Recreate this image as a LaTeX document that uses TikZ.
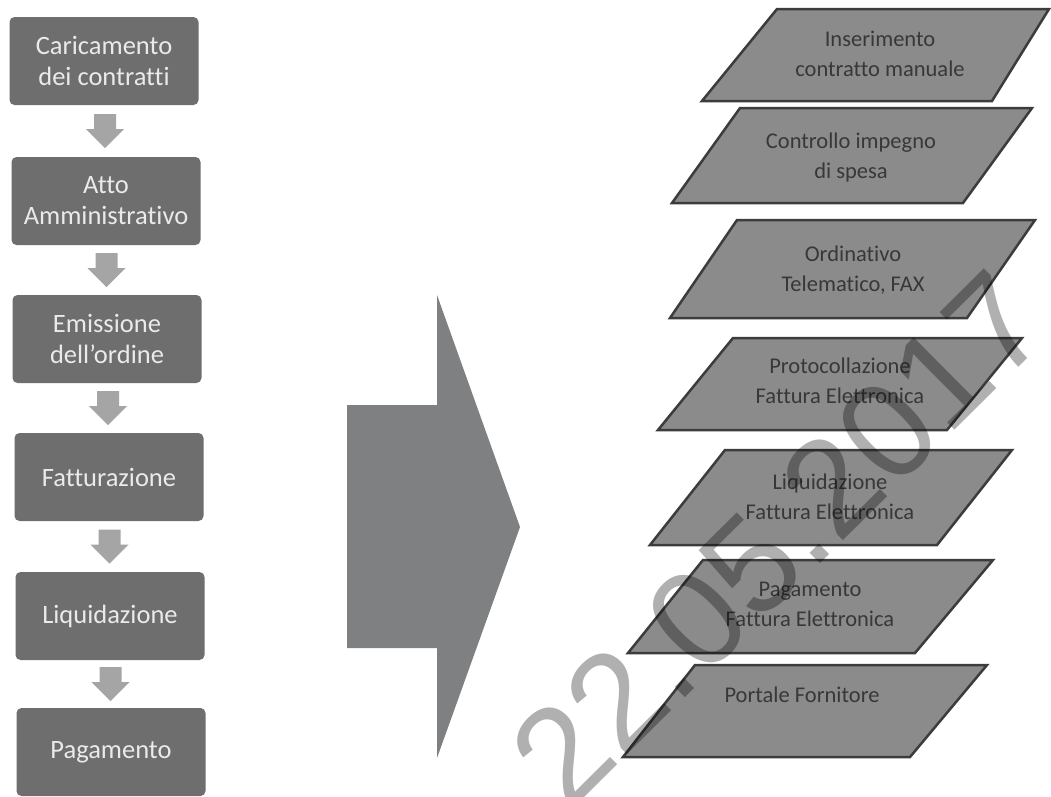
\documentclass[tikz,border=0pt]{standalone}
\usepackage{fontspec}
\setmainfont{Carlito}[Ligatures={TeX,NoCommon}]
\newfontfamily\stampfont{Liberation Sans}

\definecolor{boxgray}{HTML}{6E6E6E}
\definecolor{boxtext}{HTML}{EAEAEA}
\definecolor{stepgray}{HTML}{A5A5A5}
\definecolor{bigarrow}{HTML}{7F8081}
\definecolor{slabfill}{HTML}{8B8B8B}
\definecolor{slabline}{HTML}{3C3C3C}
\definecolor{slabtext}{HTML}{383838}
\definecolor{stampgray}{HTML}{B0B0B0}

\begin{document}
\begin{tikzpicture}[x=1pt,y=-1pt,
  phase/.style={fill=boxgray, rounded corners=5pt, minimum width=189pt,
    minimum height=88pt, inner sep=0pt, text=boxtext, align=center,
    font=\fontsize{26.5}{31}\selectfont},
  flowarrow/.style={fill=stepgray},
  slab/.style={fill=slabfill, draw=slabline, line width=2.5pt, line join=miter},
  slabtext/.style={text=slabtext, align=center, inner sep=0pt,
    font=\fontsize{22.5}{30}\selectfont},
  stamp/.style={text=stampgray, inner sep=0pt,
    font=\stampfont\fontsize{137}{137}\selectfont}]

\useasboundingbox (0,0) rectangle (1051,796);
\fill[white] (0,0) rectangle (1051,796);

% process phases, left column
\node[phase] (c1) at (104,61)  {Caricamento\\dei contratti};
\node[phase] (c2) at (106,201) {Atto\\Amministrativo};
\node[phase] (c3) at (107,339) {Emissione\\dell'ordine};
\node[phase] (c4) at (109,477) {Fatturazione};
\node[phase] (c5) at (110,616) {Liquidazione};
\node[phase] (c6) at (111,752) {Pagamento};

% block arrows between consecutive phases
\foreach \a/\b in {c1/c2,c2/c3,c3/c4,c4/c5,c5/c6}{
  \path (\a.south) -- (\b.north) coordinate[midway] (m-\a);
  \fill[flowarrow] ([shift={(-11,-17)}]m-\a) -- ([shift={(11,-17)}]m-\a)
    -- ([shift={(11,-2)}]m-\a) -- ([shift={(19,-2)}]m-\a)
    -- ([shift={(0,17)}]m-\a) -- ([shift={(-19,-2)}]m-\a)
    -- ([shift={(-11,-2)}]m-\a) -- cycle;
}

% large transition arrow
\fill[bigarrow] (347,405) -- (437,405) -- (437,295) -- (520,527)
  -- (437,758) -- (437,648) -- (347,648) -- cycle;

% electronic procedure steps, right column
\draw[slab] (777,9)   -- (1049,9)   -- (992,101) -- (702,101) -- cycle;
\draw[slab] (740,108) -- (1032,108) -- (963,203) -- (672,203) -- cycle;
\draw[slab] (737,220) -- (1035,220) -- (967,318) -- (670,318) -- cycle;
\draw[slab] (733,338) -- (1022,338) -- (947,430) -- (658,430) -- cycle;
\draw[slab] (725,450) -- (1012,450) -- (937,545) -- (650,545) -- cycle;
\draw[slab] (703,560) -- (993,560)  -- (915,653) -- (628,653) -- cycle;
\draw[slab] (695,665) -- (987,665)  -- (910,757) -- (623,757) -- cycle;

\node[slabtext] (s1) at (880,54)  {Inserimento\\contratto manuale};
\node[slabtext] (s2) at (851,157) {Controllo impegno\\di spesa};
\node[slabtext] (s3) at (853,270) {Ordinativo\\Telematico, FAX};
\node[slabtext] (s4) at (840,381) {Protocollazione\\Fattura Elettronica};
\node[slabtext] (s5) at (830,497) {Liquidazione\\Fattura Elettronica};
\node[slabtext] (s6) at (810,604) {Pagamento\\Fattura Elettronica};
\node[slabtext] (s7) at (802,695) {Portale Fornitore};

% date stamp across the page
\begin{scope}[blend mode=multiply]
  \node[stamp, rotate=44.8, anchor=base] (date) at (812,572) {22.05.2017};
\end{scope}
\end{tikzpicture}
\end{document}
